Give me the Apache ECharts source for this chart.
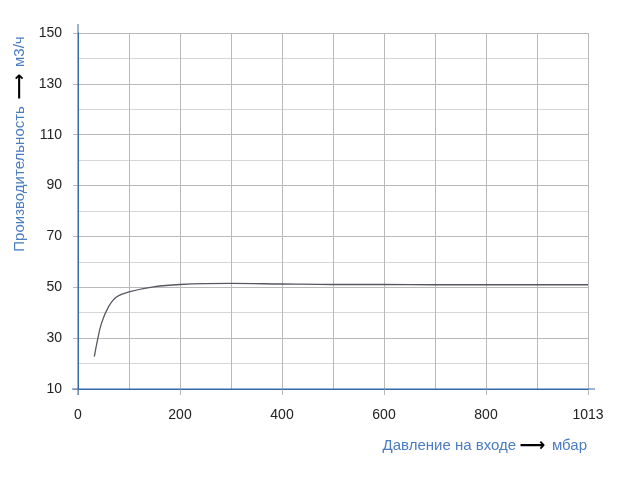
<!DOCTYPE html>
<html>
<head>
<meta charset="utf-8">
<script src="https://cdn.jsdelivr.net/npm/echarts@6/dist/echarts.min.js"></script>
<style>html,body{margin:0;padding:0;background:#fff}#c{width:625px;height:478px}</style>
</head>
<body>
<div id="c"></div>
<script>
// Data
const pressure = [32, 37, 46, 60, 76, 102, 148, 200, 300, 400, 500, 600, 700, 800, 900, 1000];
const flow = [22.7, 28.0, 35.8, 42.4, 46.3, 48.3, 50.2, 51.1, 51.5, 51.3, 51.1, 51.1, 51.0, 51.0, 51.0, 51.0];
const xTicks = [0, 200, 400, 600, 800, 1000];
const xTickLabels = ['0', '200', '400', '600', '800', '1013'];
const yTicks = [10, 30, 50, 70, 90, 110, 130, 150];
const xTitle = ['Давление на входе', 'мбар'];
const yTitle = ['Производительность', 'м3/ч'];

const AXIS = '#3468a6';
const GRID = '#b9b9b9';
const GRID_LIGHT = '#d6d6d6';
const TITLE = '#4a7cc0';
const FONT = '"Liberation Sans", Arial, sans-serif';

const chart = echarts.init(document.getElementById('c'), null, {renderer: 'canvas'});
const option = {
  animation: false,
  backgroundColor: '#fff',
  grid: {left: 78, top: 33, right: 37, bottom: 89, containLabel: false},
  xAxis: [{
    // grid lines every 100
    type: 'value', min: 0, max: 1000, interval: 100,
    axisLine: {show: true, lineStyle: {color: AXIS, width: 1}},
    axisTick: {show: false}, axisLabel: {show: false},
    splitLine: {show: true, lineStyle: {color: GRID, width: 1}}
  }, {
    // ticks and labels
    type: 'value', min: 0, max: 1000, position: 'bottom',
    axisLine: {show: false},
    axisTick: {show: true, customValues: xTicks, length: 6, lineStyle: {color: GRID}},
    axisLabel: {
      customValues: xTicks, margin: 19, color: '#222', fontSize: 14, fontFamily: FONT,
      formatter: v => xTickLabels[xTicks.indexOf(v)]
    },
    splitLine: {show: false}
  }],
  yAxis: [{
    type: 'value', min: 10, max: 150, interval: 10,
    axisLine: {show: true, lineStyle: {color: AXIS, width: 1}},
    axisTick: {show: false}, axisLabel: {show: false},
    splitLine: {show: true, lineStyle: {color: [GRID, GRID_LIGHT], width: 1}}
  }, {
    type: 'value', min: 10, max: 150, position: 'left',
    axisLine: {show: false},
    axisTick: {show: true, customValues: yTicks, length: 5, lineStyle: {color: GRID}},
    axisLabel: {customValues: yTicks, margin: 16, color: '#222', fontSize: 14, fontFamily: FONT},
    splitLine: {show: false}
  }],
  series: [{
    type: 'line',
    xAxisIndex: 0, yAxisIndex: 0,
    data: pressure.map((p, i) => [p, flow[i]]),
    smooth: 0.4,
    showSymbol: false,
    lineStyle: {color: '#5a5560', width: 1.3}
  }]
};
chart.setOption(option);

const p0 = chart.convertToPixel({xAxisIndex: 0, yAxisIndex: 0}, [0, 10]);
const p1 = chart.convertToPixel({xAxisIndex: 0, yAxisIndex: 0}, [1000, 150]);
const richStyles = {
  t: {fontSize: 15, fontFamily: FONT, fill: TITLE, color: TITLE},
  a: {fontSize: 18, fontWeight: 'bold', fontFamily: '"DejaVu Sans", sans-serif', fill: '#000', color: '#000'}
};
chart.setOption({
  graphic: [
    {type: 'line', shape: {x1: p0[0], y1: p1[1] - 9, x2: p0[0], y2: p0[1] + 6}, style: {stroke: AXIS, lineWidth: 1}, z: 10},
    {type: 'line', shape: {x1: p0[0] - 6, y1: p0[1], x2: p1[0] + 7, y2: p0[1]}, style: {stroke: AXIS, lineWidth: 1}, z: 10},
    {
      type: 'text', x: p1[0] - 1, y: 446,
      style: {
        text: '{t|' + xTitle[0] + '} {a|⟶}  {t|' + xTitle[1] + '}',
        align: 'right', verticalAlign: 'middle',
        rich: richStyles
      }
    },
    {
      type: 'text', x: 20, y: 144, rotation: Math.PI / 2,
      style: {
        text: '{t|' + yTitle[0] + '}  {a|⟶}  {t|' + yTitle[1] + '}',
        align: 'center', verticalAlign: 'middle',
        rich: richStyles
      }
    }
  ]
});
</script>
</body>
</html>
